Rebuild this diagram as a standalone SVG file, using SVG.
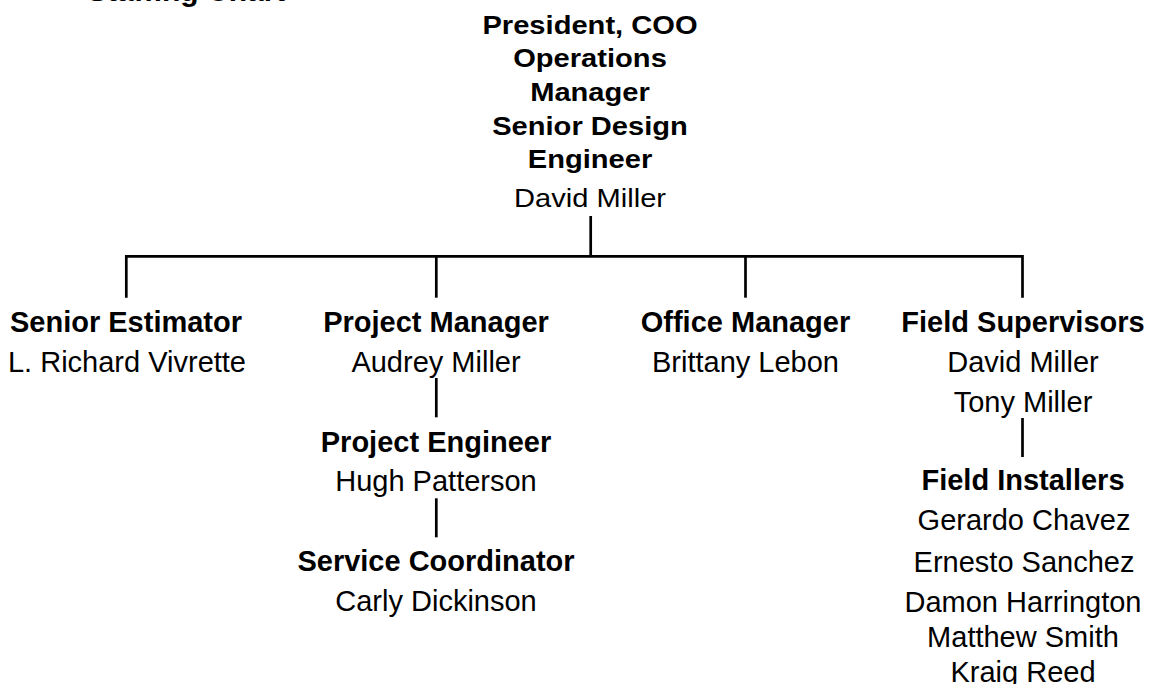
<svg xmlns="http://www.w3.org/2000/svg" width="1150" height="684" viewBox="0 0 1150 684">
  <style>
    text { font-family: "Liberation Sans", Arial, Helvetica, sans-serif; fill: #000; text-anchor: middle; }
    .role { font-size: 29px; font-weight: bold; }
    .name { font-size: 29px; }
    .top-role { font-size: 26px; font-weight: bold; }
    .top-name { font-size: 26px; }
    .title { font-size: 30px; font-weight: bold; text-anchor: start; }
    .link { fill: none; stroke: #000; stroke-width: 2.7; stroke-linecap: butt; stroke-linejoin: miter; }
  </style>
  <rect width="1150" height="684" fill="#fff"/>

  <!-- page heading, mostly above the top edge -->
  <text class="title" x="87" y="1.2">Staffing Chart</text>

  <!-- connectors -->
  <g id="connectors">
    <path class="link" d="M590.7 216V256.3"/>
    <path class="link" d="M126.3 297.7V256.3H1022.5V297.7"/>
    <path class="link" d="M436.3 256.3V297.7"/>
    <path class="link" d="M745.5 256.3V297.7"/>
    <path class="link" d="M436.3 378V417.3"/>
    <path class="link" d="M436.3 498.3V537.3"/>
    <path class="link" d="M1022.5 418V457"/>
  </g>

  <g id="president" transform="translate(590 0) scale(1.12 1)">
    <text class="top-role" x="0" y="34.3">President, COO</text>
    <text class="top-role" x="0" y="67">Operations</text>
    <text class="top-role" x="0" y="101">Manager</text>
    <text class="top-role" x="0" y="135">Senior Design</text>
    <text class="top-role" x="0" y="167.7">Engineer</text>
    <text class="top-name" x="0" y="206.7">David Miller</text>
  </g>

  <g id="senior-estimator">
    <text class="role" x="126" y="332.3">Senior Estimator</text>
    <text class="name" x="127" y="372">L. Richard Vivrette</text>
  </g>

  <g id="project-manager">
    <text class="role" x="436" y="332.3">Project Manager</text>
    <text class="name" x="436" y="372">Audrey Miller</text>
  </g>

  <g id="office-manager">
    <text class="role" x="745.5" y="332.3">Office Manager</text>
    <text class="name" x="745.5" y="372">Brittany Lebon</text>
  </g>

  <g id="field-supervisors">
    <text class="role" x="1023" y="332.3">Field Supervisors</text>
    <text class="name" x="1023" y="372">David Miller</text>
    <text class="name" x="1023" y="411.7">Tony Miller</text>
  </g>

  <g id="project-engineer">
    <text class="role" x="436" y="451.7">Project Engineer</text>
    <text class="name" x="436" y="490.7">Hugh Patterson</text>
  </g>

  <g id="service-coordinator">
    <text class="role" x="436" y="571">Service Coordinator</text>
    <text class="name" x="436" y="610.5">Carly Dickinson</text>
  </g>

  <g id="field-installers">
    <text class="role" x="1023" y="490">Field Installers</text>
    <text class="name" x="1024" y="530">Gerardo Chavez</text>
    <text class="name" x="1024" y="571.7">Ernesto Sanchez</text>
    <text class="name" x="1023" y="611.7">Damon Harrington</text>
    <text class="name" x="1023" y="646.7">Matthew Smith</text>
    <text class="name" x="1023" y="681.7">Kraig Reed</text>
  </g>
</svg>
